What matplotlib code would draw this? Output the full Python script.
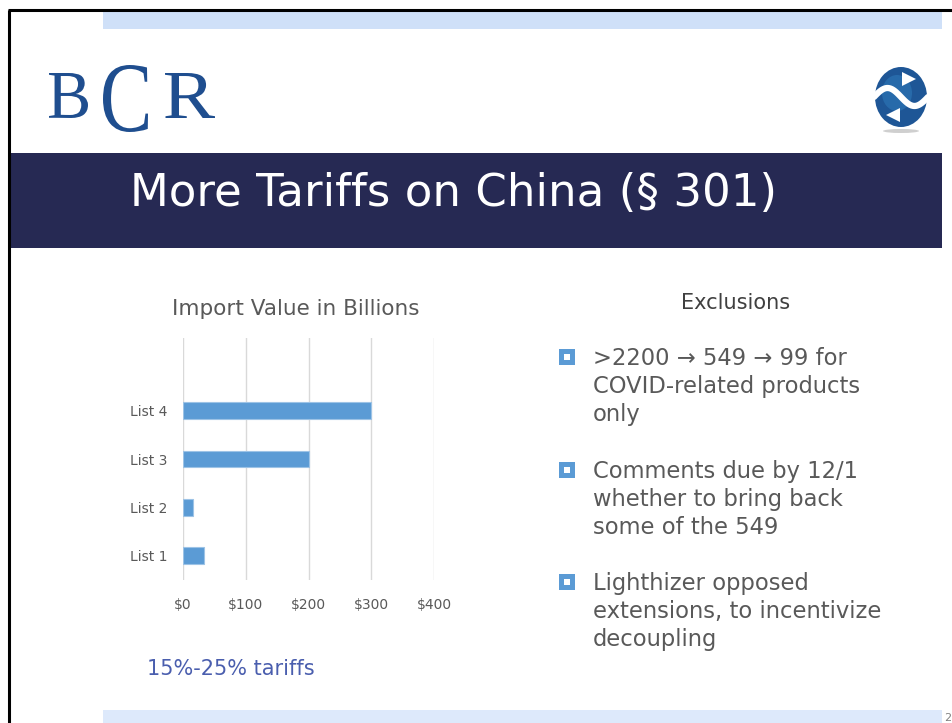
import numpy as np
import matplotlib
matplotlib.use("Agg")
import matplotlib.pyplot as plt
from matplotlib.patches import Rectangle, Ellipse, Polygon, PathPatch
from matplotlib.textpath import TextPath
from matplotlib.font_manager import FontProperties
from matplotlib.transforms import Affine2D

# chart data (import value, $ billions)
categories = ["List 1", "List 2", "List 3", "List 4"]
values = [34, 16, 200, 300]
x_ticks = [0, 100, 200, 300, 400]
x_tick_labels = ["$0", "$100", "$200", "$300", "$400"]

title = "More Tariffs on China (§ 301)"
chart_title = "Import Value in Billions"
note = "15%-25% tariffs"
right_header = "Exclusions"
bullets = [
    [">2200 \u2192 549 \u2192 99 for", "COVID-related products", "only"],
    ["Comments due by 12/1", "whether to bring back", "some of the 549"],
    ["Lighthizer opposed", "extensions, to incentivize", "decoupling"],
]

W, H = 952, 723
fig = plt.figure(figsize=(W / 100, H / 100), dpi=100)
fig.patch.set_facecolor("white")

# background axes in pixel coordinates
bg = fig.add_axes([0, 0, 1, 1])
bg.set_xlim(0, W)
bg.set_ylim(H, 0)
bg.axis("off")

# slide frame
bg.plot([8, W], [10, 10], color="black", lw=2.2, solid_capstyle="butt")
bg.plot([9, 9], [10, H], color="black", lw=2.2, solid_capstyle="butt")

# light blue bands
bg.add_patch(Rectangle((103, 12), 839, 17, color="#CFE0F8", lw=0))
bg.add_patch(Rectangle((103, 710), 839, 13, color="#DDE9FB", lw=0))

# title band
bg.add_patch(Rectangle((10, 153), 932, 95, color="#262953", lw=0))
bg.text(130, 206, title, color="white", fontsize=32.5, va="baseline", ha="left")

# BCR logo, each letter stretched into its box
logo_c = "#1F4E8F"
serif = FontProperties(family="Liberation Serif")


def letter(ch, x0, x1, y0, y1):
    tp = TextPath((0, 0), ch, size=100, prop=serif)
    ext = tp.get_extents()
    tr = (Affine2D().translate(-ext.x0, -ext.y1)
          .scale((x1 - x0) / ext.width, -(y1 - y0) / ext.height)
          .translate(x0, y0))
    bg.add_patch(PathPatch(tr.transform_path(tp), color=logo_c, lw=0))


letter("B", 49, 88, 73, 118)
letter("C", 103, 148, 65, 132)
letter("R", 165, 215, 73, 118)

# round arrows logo
bg.add_patch(Ellipse((901, 131), 36, 4, color="#CFCFCF", lw=0))
bg.add_patch(Ellipse((901, 97), 52, 60, color="#1E5696", lw=0))
bg.add_patch(Ellipse((897, 93), 30, 36, color="#2E78B8", lw=0, alpha=0.6))
t = np.linspace(0, 1, 40)
sx = 874 + 54 * t
sy = 97 - 9 * np.sin(2 * np.pi * t)
bg.plot(sx, sy, color="white", lw=4.5, solid_capstyle="round")
bg.add_patch(Polygon([[902, 72], [916, 79], [902, 86]], color="white", lw=0))
bg.add_patch(Polygon([[900, 108], [886, 115], [900, 122]], color="white", lw=0))

# text colours
gray = "#595959"

# chart title + note
bg.text(296, 315, chart_title, color=gray, fontsize=15.5, ha="center", va="baseline")
bg.text(147, 675, note, color="#4A5EAE", fontsize=15, ha="left", va="baseline")

# right column
bg.text(736, 309, right_header, color="#404040", fontsize=15, ha="center", va="baseline")
starts = [365, 478, 590]
for lines, y0 in zip(bullets, starts):
    bg.add_patch(Rectangle((559, y0 - 16), 16, 16, color="#5B9BD5", lw=0))
    bg.add_patch(Rectangle((564, y0 - 11), 6, 6, color="white", lw=0))
    for i, line in enumerate(lines):
        bg.text(593, y0 + i * 28.2, line, color=gray, fontsize=16.3, ha="left", va="baseline")

# page number
bg.text(944, 721, "2", color="#808080", fontsize=8, ha="left", va="baseline")

# bar chart
ax = fig.add_axes([183 / W, 1 - 580 / H, (434 - 183) / W, (580 - 338) / H])
ax.barh(np.arange(len(categories)), values, height=0.35, color="#5B9BD5",
        edgecolor="#9DC3E6", linewidth=0.8, zorder=3)
ax.set_xlim(0, 400)
ax.set_ylim(-0.5, 4.5)
ax.set_xticks(x_ticks)
ax.set_xticklabels(x_tick_labels)
ax.set_yticks(np.arange(len(categories)))
ax.set_yticklabels(categories)
ax.grid(axis="x", color="#D9D9D9", lw=1, zorder=0)
for s in ax.spines.values():
    s.set_visible(False)
ax.tick_params(axis="both", length=0, labelsize=10, labelcolor=gray)
ax.tick_params(axis="x", pad=13)
ax.tick_params(axis="y", pad=11)
ax.set_facecolor("none")

fig.savefig("out.png", dpi=100)
